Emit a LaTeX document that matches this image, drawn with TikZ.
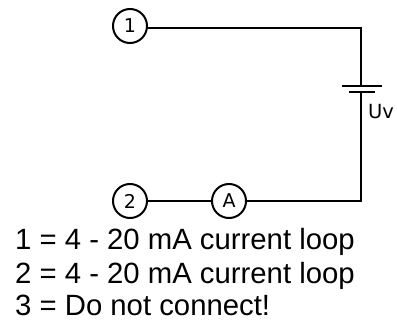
\documentclass[tikz,border=0pt]{standalone}
\usepackage{fontspec}
\setmainfont{Liberation Sans}
\newfontfamily\dvs{DejaVu Sans}
\tikzset{
  terminal/.style={circle,draw=black,line width=2pt,minimum size=34pt,inner sep=0pt,font=\dvs\fontsize{19}{22}\selectfont},
  wire/.style={draw=black,line width=1.3pt},
  plate/.style={draw=black,line width=1.8pt},
  legend/.style={anchor=base west,inner sep=0pt,font=\fontsize{29.3}{32}\selectfont}
}
\begin{document}
\begin{tikzpicture}[x=1pt,y=-1pt]
\useasboundingbox (0,0) rectangle (397,321);
\node[terminal] (one) at (130,26) {1};
\node[terminal] (two) at (130,201) {2};
\node[terminal] (amp) at (229,201) {A};
\coordinate (tr) at (361,28);
\coordinate (br) at (361,201);
\coordinate (pa) at (361,86);
\coordinate (pb) at (361,92);
\coordinate (pal) at (342,86);
\coordinate (par) at (382,86);
\coordinate (pbl) at (349,92);
\coordinate (pbr) at (375,92);
\draw[wire] (one.east |- tr) -- (tr) -- (pa);
\draw[wire] (pb) -- (br) -- (amp);
\draw[wire] (two) -- (amp);
\draw[plate] (pal) -- (par);
\draw[plate] (pbl) -- (pbr);
\node[anchor=base west,inner sep=0pt,font=\dvs\fontsize{19.5}{22}\selectfont] (uv) at (368,119) {Uv};
\node[legend] (l1) at (15,250) {1 = 4 - 20 mA current loop};
\node[legend] (l2) at (15,283) {2 = 4 - 20 mA current loop};
\node[legend] (l3) at (15,315) {3 = Do not connect!};
\end{tikzpicture}
\end{document}
